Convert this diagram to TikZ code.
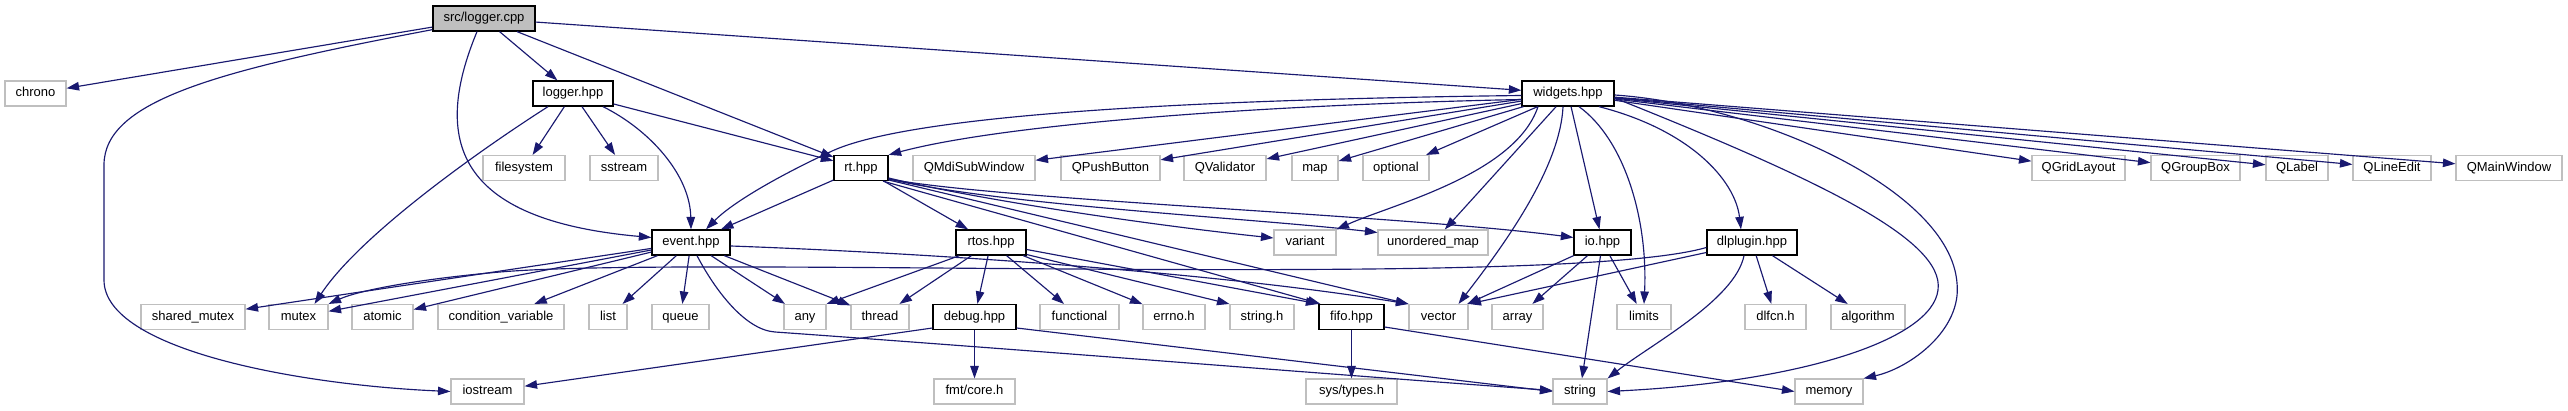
\documentclass[tikz,border=0pt]{standalone}
\usepackage{fontspec}
\setmainfont{Liberation Sans}
\usetikzlibrary{arrows.meta}
\definecolor{edgec}{HTML}{191970}
\definecolor{gfill}{HTML}{BFBFBF}
\definecolor{gline}{HTML}{BFBFBF}
\begin{document}
\begin{tikzpicture}[x=1pt,y=-1pt,
 nd/.style={rectangle, minimum height=25pt, inner sep=0pt, font=\fontsize{13}{15}\selectfont, text height=9.5pt, text depth=2.5pt},
 ext/.style={nd, draw=gline, line width=1.1pt, fill=white},
 intn/.style={nd, draw=black, line width=1.3pt, fill=white},
 rootn/.style={nd, draw=black, line width=1.3pt, fill=gfill},
 dep/.style={draw=edgec, line width=1.15pt, -{Triangle[length=12.5pt,width=8.5pt]}}]

\useasboundingbox[fill=white] (0,0) rectangle (2568,411);

% row 0
\node[rootn, minimum width=102pt] (root) at (484,18.5) {src/logger.cpp};
% row 1
\node[ext, minimum width=61pt] (chrono) at (35.5,93.5) {chrono};
\node[intn, minimum width=80pt] (logger) at (573,93.5) {logger.hpp};
\node[intn, minimum width=92pt] (widgets) at (1568,93.5) {widgets.hpp};
% row 2
\node[ext, minimum width=82pt] (filesystem) at (524,168) {filesystem};
\node[ext, minimum width=68pt] (sstream) at (624,168) {sstream};
\node[intn, minimum width=54pt] (rt) at (861,168) {rt.hpp};
\node[ext, minimum width=122pt] (qmdi) at (974,168) {QMdiSubWindow};
\node[ext, minimum width=99pt] (qpush) at (1110.5,168) {QPushButton};
\node[ext, minimum width=82pt] (qvalid) at (1225,168) {QValidator};
\node[ext, minimum width=46pt] (map) at (1315,168) {map};
\node[ext, minimum width=66pt] (optional) at (1396,168) {optional};
\node[ext, minimum width=93pt] (qgrid) at (2078.5,168) {QGridLayout};
\node[ext, minimum width=89pt] (qgroup) at (2195.5,168) {QGroupBox};
\node[ext, minimum width=62pt] (qlabel) at (2297,168) {QLabel};
\node[ext, minimum width=78pt] (qline) at (2392,168) {QLineEdit};
\node[ext, minimum width=106pt] (qmain) at (2509,168) {QMainWindow};
% row 3
\node[intn, minimum width=78pt] (event) at (691,242.5) {event.hpp};
\node[intn, minimum width=70pt] (rtos) at (991,242.5) {rtos.hpp};
\node[ext, minimum width=62pt] (variant) at (1305,242.5) {variant};
\node[ext, minimum width=110pt] (umap) at (1433,242.5) {unordered\_map};
\node[intn, minimum width=57pt] (io) at (1602.5,242.5) {io.hpp};
\node[intn, minimum width=90pt] (dlplugin) at (1752,242.5) {dlplugin.hpp};
% row 4
\node[ext, minimum width=104pt] (shmutex) at (193,317) {shared\_mutex};
\node[ext, minimum width=59pt] (mutex) at (298.5,317) {mutex};
\node[ext, minimum width=61pt] (atomic) at (382.5,317) {atomic};
\node[ext, minimum width=126pt] (condvar) at (501,317) {condition\_variable};
\node[ext, minimum width=38pt] (list) at (608,317) {list};
\node[ext, minimum width=57pt] (queue) at (680.5,317) {queue};
\node[ext, minimum width=42pt] (any) at (805,317) {any};
\node[ext, minimum width=58pt] (thread) at (880,317) {thread};
\node[intn, minimum width=83pt] (debug) at (974.5,317) {debug.hpp};
\node[ext, minimum width=79pt] (functional) at (1079.5,317) {functional};
\node[ext, minimum width=62pt] (errno) at (1174,317) {errno.h};
\node[ext, minimum width=64pt] (stringh) at (1262,317) {string.h};
\node[intn, minimum width=65pt] (fifo) at (1351.5,317) {fifo.hpp};
\node[ext, minimum width=59pt] (vector) at (1438.5,317) {vector};
\node[ext, minimum width=51pt] (array) at (1517.5,317) {array};
\node[ext, minimum width=54pt] (limits) at (1644,317) {limits};
\node[ext, minimum width=61pt] (dlfcn) at (1775.5,317) {dlfcn.h};
\node[ext, minimum width=74pt] (algorithm) at (1868,317) {algorithm};
% row 5
\node[ext, minimum width=73pt] (iostream) at (487.5,391.5) {iostream};
\node[ext, minimum width=81pt] (fmt) at (974.5,391.5) {fmt/core.h};
\node[ext, minimum width=91pt] (systypes) at (1351.5,391.5) {sys/types.h};
\node[ext, minimum width=54pt] (string) at (1580,391.5) {string};
\node[ext, minimum width=68pt] (memory) at (1829,391.5) {memory};

% root edges
\draw[dep] (root) -- (chrono);
\draw[dep] ([yshift=2pt]root.south west) .. controls (220,70) and (104,100) .. (104,165) -- (104,280) .. controls (104,350) and (300,385) .. (iostream.west);
\draw[dep] ([xshift=-7pt]root.south) .. controls (432,140) and (455,220) .. ([yshift=5pt]event.west);
\draw[dep] (root) -- (logger);
\draw[dep] (root) -- (rt);
\draw[dep] (root) -- (widgets);

% logger edges
\draw[dep] (logger) -- (filesystem);
\draw[dep] (logger) -- (sstream);
\draw[dep] ([xshift=-25pt]logger.south) .. controls (480,150) and (360,235) .. ([xshift=16pt]mutex.north);
\draw[dep] ([xshift=30pt]logger.south) .. controls (650,130) and (690,175) .. (event.north);
\draw[dep] (logger) -- (rt);

% widgets edges
\draw[dep] ([yshift=-6pt]widgets.west) .. controls (1250,105) and (1000,125) .. (rt.north east);
\draw[dep] ([yshift=-2pt]widgets.west) .. controls (1150,100) and (900,118) .. (830,152) .. controls (770,180) and (730,205) .. ([xshift=15pt]event.north);
\draw[dep] (widgets) -- (qmdi);
\draw[dep] (widgets) -- (qpush);
\draw[dep] (widgets) -- (qvalid);
\draw[dep] (widgets) -- (map);
\draw[dep] (widgets) -- (optional);
\draw[dep] ([xshift=-30pt]widgets.south) .. controls (1515,175) and (1390,205) .. (variant.north east);
\draw[dep] (widgets) -- (umap);
\draw[dep] ([xshift=-5pt]widgets.south) .. controls (1560,170) and (1500,250) .. ([xshift=20pt]vector.north);
\draw[dep] (widgets) -- (io);
\draw[dep] ([xshift=11pt]widgets.south) .. controls (1625,140) and (1648,220) .. (limits.north);
\draw[dep] ([xshift=31pt]widgets.south) .. controls (1690,130) and (1735,180) .. ([xshift=-11pt]dlplugin.north);
\draw[dep] ([yshift=-4.5pt]widgets.east) .. controls (1820,180) and (1945,240) .. (1938,290) .. controls (1932,340) and (1800,382) .. (string.east);
\draw[dep] ([yshift=-1.5pt]widgets.east) .. controls (1760,105) and (1950,190) .. (1957,283) .. controls (1962,330) and (1910,368) .. (memory.north east);
\draw[dep] (widgets) -- (qgrid);
\draw[dep] (widgets) -- (qgroup);
\draw[dep] (widgets) -- (qlabel);
\draw[dep] (widgets) -- (qline);
\draw[dep] (widgets) -- (qmain);

% rt edges
\draw[dep] (rt) -- (event);
\draw[dep] (rt) -- (rtos);
\draw[dep] ([yshift=-10pt]rt.east) .. controls (980,200) and (1150,225) .. ([yshift=4.5pt]variant.west);
\draw[dep] ([yshift=-11pt]rt.east) .. controls (1000,205) and (1250,218) .. ([yshift=10pt]umap.west);
\draw[dep] ([yshift=-11pt]rt.east) .. controls (1000,200) and (1400,215) .. ([yshift=5pt]io.west);
\draw[dep] ([xshift=22pt]rt.south) -- ([xshift=2pt]fifo.north west);
\draw[dep] ([yshift=-12pt]rt.east) -- (vector.north west);

% rtos edges
\draw[dep] ([xshift=4pt]rtos.south west) -- (any.north east);
\draw[dep] (rtos) -- (thread);
\draw[dep] (rtos) -- (debug);
\draw[dep] (rtos) -- (functional);
\draw[dep] (rtos) -- (errno);
\draw[dep] ([yshift=-12pt]rtos.east) -- (stringh.north west);
\draw[dep] ([yshift=-7pt]rtos.east) -- (fifo.north west);

% event edges
\draw[dep] (event) -- (shmutex);
\draw[dep] (event) -- (mutex);
\draw[dep] (event) -- (atomic);
\draw[dep] (event) -- (condvar);
\draw[dep] (event) -- (list);
\draw[dep] (event) -- (queue);
\draw[dep] (event) -- (any);
\draw[dep] (event) -- (thread);
\draw[dep] ([xshift=6pt]event.south) .. controls (715,290) and (745,330) .. (775,332) .. controls (1000,348) and (1300,372) .. ([yshift=1pt]string.west);
\draw[dep] ([yshift=-3.5pt]event.east) .. controls (900,252) and (1200,270) .. (vector.north west);

% dlplugin edges
\draw[dep] ([yshift=-5pt]dlplugin.west) .. controls (1560,290) and (700,255) .. (500,272) .. controls (420,279) and (360,290) .. (mutex.north east);
\draw[dep] ([yshift=-10pt]dlplugin.west) -- (vector.north east);
\draw[dep] ([xshift=-8pt]dlplugin.south) .. controls (1735,300) and (1650,345) .. (string.north east);
\draw[dep] (dlplugin) -- (dlfcn);
\draw[dep] (dlplugin) -- (algorithm);

% io edges
\draw[dep] (io) -- (vector);
\draw[dep] (io) -- (array);
\draw[dep] (io) -- (limits);
\draw[dep] (io) -- (string);

% debug edges
\draw[dep] ([yshift=-11pt]debug.west) -- (iostream);
\draw[dep] (debug) -- (fmt);
\draw[dep] ([yshift=-11pt]debug.east) -- (string.west);

% fifo edges
\draw[dep] (fifo) -- (systypes);
\draw[dep] ([yshift=-10pt]fifo.east) -- (memory.west);
\end{tikzpicture}
\end{document}
